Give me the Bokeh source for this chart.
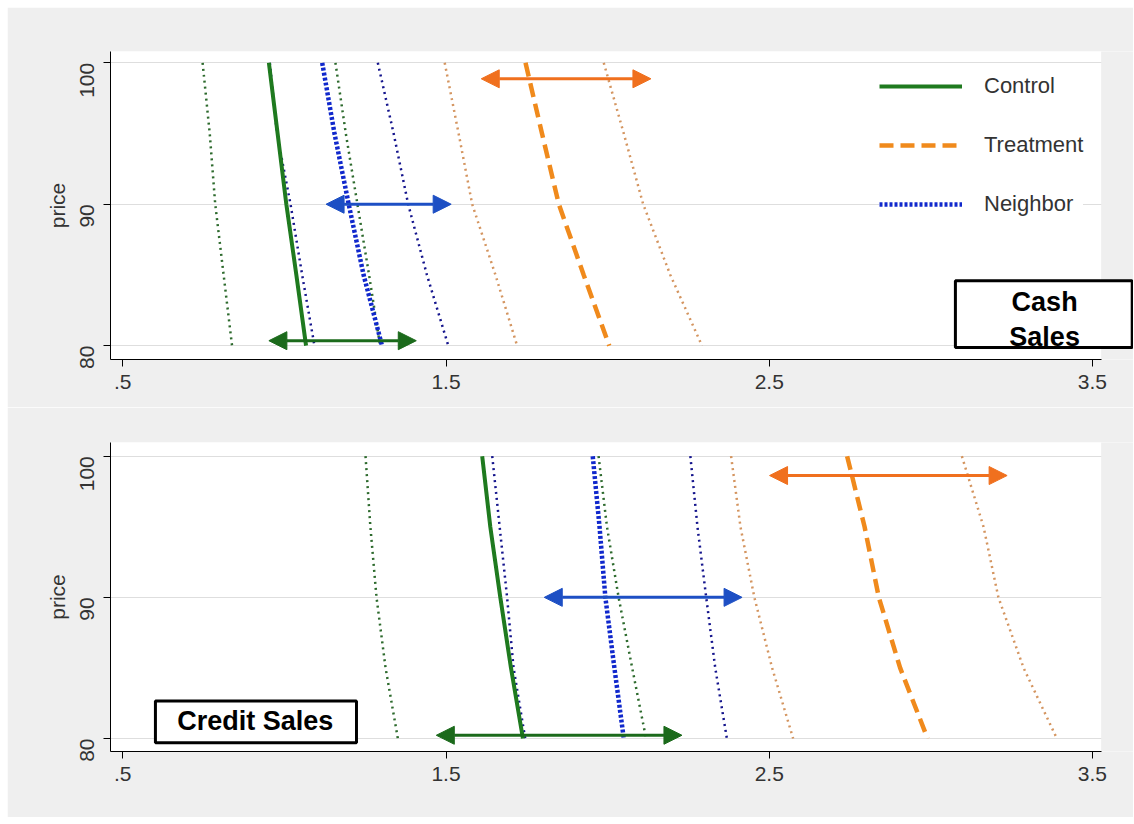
import math
from bokeh.plotting import figure
from bokeh.models import (Range1d, FixedTicker, Arrow, NormalHead, BoxAnnotation,
                          Label, Legend, LegendItem)
from bokeh.layouts import column
from bokeh.embed import file_html
from bokeh.resources import INLINE

# ---------------- data ----------------
price = [100, 95, 90, 85, 80]

# Cash sales panel
cash_control = [0.952, 0.979, 1.006, 1.037, 1.067]
cash_control_lo = [0.747, 0.769, 0.786, 0.812, 0.838]
cash_control_hi = [1.158, 1.190, 1.226, 1.262, 1.296]
cash_treat = [1.746, 1.797, 1.849, 1.926, 2.005]
cash_treat_lo = [1.496, 1.539, 1.581, 1.653, 1.720]
cash_treat_hi = [1.988, 2.050, 2.110, 2.194, 2.292]
cash_neigh = [1.117, 1.155, 1.199, 1.245, 1.302]
cash_neigh_lo = [0.955, 0.977, 1.019, 1.055, 1.093]
cash_neigh_hi = [1.289, 1.338, 1.383, 1.441, 1.507]

# Credit sales panel
credit_control = [1.612, 1.637, 1.668, 1.701, 1.738]
credit_control_lo = [1.251, 1.266, 1.285, 1.313, 1.351]
credit_control_hi = [1.972, 1.998, 2.034, 2.076, 2.119]
credit_treat = [2.741, 2.795, 2.839, 2.905, 2.990]
credit_treat_lo = [2.382, 2.411, 2.454, 2.509, 2.574]
credit_treat_hi = [3.096, 3.163, 3.209, 3.287, 3.390]
credit_neigh = [1.954, 1.975, 1.993, 2.021, 2.050]
credit_neigh_lo = [1.643, 1.666, 1.689, 1.709, 1.745]
credit_neigh_hi = [2.256, 2.278, 2.305, 2.333, 2.369]

# Double-headed arrows (group, from, to, price level)
arrow_groups = ["Control", "Neighbor", "Treatment"]
cash_arrow_from = [0.952, 1.129, 1.609]
cash_arrow_to = [1.408, 1.516, 2.134]
cash_arrow_price = [80.35, 90.0, 98.87]
credit_arrow_from = [1.470, 1.804, 2.501]
credit_arrow_to = [2.230, 2.416, 3.236]
credit_arrow_price = [80.23, 90.0, 98.63]

x_ticks = [0.5, 1.5, 2.5, 3.5]
x_tick_labels = [".5", "1.5", "2.5", "3.5"]
y_ticks = [80, 90, 100]
y_tick_labels = ["80", "90", "100"]
series_names = ["Control", "Treatment", "Neighbor"]

# ---------------- layout / styles ----------------
X_START, X_AXIS_END, X_FRAME_END = 0.462, 3.527, 3.627
FONT = "Liberation Sans"
BG = "#efefef"
TXT = "#333333"
C_GREEN = "#1f7a1f"
C_GREEN_CI = "#2d6a2d"
C_ORANGE = "#f08a1c"
C_ORANGE_CI = "#d49560"
C_BLUE = "#1028cc"
C_BLUE_CI = "#14148c"
ARROW_COL = {"Control": "#1b6a1b", "Neighbor": "#1d4fc4", "Treatment": "#f0701e"}


def make_panel(height, y0, y1, border_top, border_bottom, ctrl, ctrl_lo, ctrl_hi,
               trt, trt_lo, trt_hi, nb, nb_lo, nb_hi, a_from, a_to, a_price):
    p = figure(width=1126, height=height, x_range=Range1d(X_START, X_FRAME_END),
               y_range=Range1d(y0, y1), output_backend="svg", toolbar_location=None,
               min_border_left=103, min_border_right=0,
               min_border_top=border_top, min_border_bottom=border_bottom)
    p.border_fill_color = BG
    p.background_fill_color = "white"
    p.outline_line_color = None
    p.xgrid.visible = False
    p.ygrid.grid_line_color = "#dedede"
    p.ygrid.grid_line_width = 1

    # grey margin to the right of the plotting region (frame extends so boxes are not clipped)
    p.add_layout(BoxAnnotation(left=X_AXIS_END, right=X_FRAME_END + 1, top=y1 + 5, bottom=y0 - 5,
                               fill_color=BG, fill_alpha=1.0, line_alpha=0.0, level="underlay"))

    p.xaxis.ticker = FixedTicker(ticks=x_ticks)
    p.xaxis.major_label_overrides = dict(zip(x_ticks, x_tick_labels))
    p.xaxis.bounds = (X_START, X_AXIS_END)
    p.yaxis.ticker = FixedTicker(ticks=y_ticks)
    p.yaxis.major_label_overrides = dict(zip(y_ticks, y_tick_labels))
    for ax in (p.xaxis, p.yaxis):
        ax.minor_tick_line_color = None
        ax.major_tick_out = 7
        ax.major_tick_in = 0
        ax.axis_line_color = "black"
        ax.major_tick_line_color = "black"
        ax.major_label_text_font = FONT
        ax.major_label_text_font_size = "21px"
        ax.major_label_text_color = TXT
    p.xaxis.major_label_standoff = 8
    p.yaxis.major_label_orientation = math.pi / 2
    p.yaxis.major_label_standoff = 16
    p.yaxis.axis_label = "price"
    p.yaxis.axis_label_text_font = FONT
    p.yaxis.axis_label_text_font_size = "21px"
    p.yaxis.axis_label_text_font_style = "normal"
    p.yaxis.axis_label_text_color = TXT
    p.yaxis.axis_label_standoff = 2

    # confidence bands (thin dotted)
    p.line(ctrl_lo, price, line_color=C_GREEN_CI, line_width=2.5, line_dash="2 4")
    p.line(ctrl_hi, price, line_color=C_GREEN_CI, line_width=2.5, line_dash="2 4")
    p.line(trt_lo, price, line_color=C_ORANGE_CI, line_width=2.5, line_dash="2 4")
    p.line(trt_hi, price, line_color=C_ORANGE_CI, line_width=2.5, line_dash="2 4")
    p.line(nb_lo, price, line_color=C_BLUE_CI, line_width=2.5, line_dash="2 4")
    p.line(nb_hi, price, line_color=C_BLUE_CI, line_width=2.5, line_dash="2 4")

    # central estimates
    r_c = p.line(ctrl, price, line_color=C_GREEN, line_width=4)
    r_t = p.line(trt, price, line_color=C_ORANGE, line_width=4.5, line_dash="14 7")
    r_n = p.line(nb, price, line_color=C_BLUE, line_width=4.5, line_dash="3 2")

    for g, xa, xb, yp in zip(arrow_groups, a_from, a_to, a_price):
        col = ARROW_COL[g]
        p.add_layout(Arrow(
            start=NormalHead(size=18, fill_color=col, line_color=col),
            end=NormalHead(size=18, fill_color=col, line_color=col),
            x_start=xa, y_start=yp, x_end=xb, y_end=yp,
            line_color=col, line_width=3))
    return p, [r_c, r_t, r_n]


p1, rends = make_panel(400, 79.02, 100.8, 44, 48,
                       cash_control, cash_control_lo, cash_control_hi,
                       cash_treat, cash_treat_lo, cash_treat_hi,
                       cash_neigh, cash_neigh_lo, cash_neigh_hi,
                       cash_arrow_from, cash_arrow_to, cash_arrow_price)
p2, _ = make_panel(410, 79.08, 100.97, 35, 66,
                   credit_control, credit_control_lo, credit_control_hi,
                   credit_treat, credit_treat_lo, credit_treat_hi,
                   credit_neigh, credit_neigh_lo, credit_neigh_hi,
                   credit_arrow_from, credit_arrow_to, credit_arrow_price)

legend = Legend(items=[LegendItem(label=n, renderers=[r]) for n, r in zip(series_names, rends)],
                location=(769, 142), margin=0, padding=0, spacing=33,
                glyph_width=83, glyph_height=16, label_height=16, label_standoff=22,
                label_text_font=FONT, label_text_font_size="22px", label_text_color=TXT,
                border_line_color=None, background_fill_color="white", background_fill_alpha=1.0)
p1.add_layout(legend)

# panel titles in boxed labels
p1.add_layout(BoxAnnotation(left=3.076, right=3.623, top=84.58, bottom=79.86,
                            fill_color="white", fill_alpha=1.0, line_alpha=0.0))
p1.add_layout(Label(x=3.352, y=83.12, text="Cash", text_align="center", text_baseline="middle",
                    text_font=FONT, text_font_style="bold", text_font_size="27px", text_color="black"))
p1.add_layout(Label(x=3.352, y=80.64, text="Sales", text_align="center", text_baseline="middle",
                    text_font=FONT, text_font_style="bold", text_font_size="27px", text_color="black"))
p1.add_layout(BoxAnnotation(left=3.076, right=3.623, top=84.58, bottom=79.86,
                            fill_alpha=0.0, line_color="black", line_alpha=1.0, line_width=3))

p2.add_layout(BoxAnnotation(left=0.601, right=1.223, top=82.65, bottom=79.70,
                            fill_color="white", fill_alpha=1.0,
                            line_color="black", line_alpha=1.0, line_width=3))
p2.add_layout(Label(x=0.910, y=81.23, text="Credit Sales", text_align="center", text_baseline="middle",
                    text_font=FONT, text_font_style="bold", text_font_size="27px", text_color="black"))

layout = column(p1, p2, spacing=0, margin=(7, 0, 0, 7))
open("out.html", "w").write(file_html(layout, INLINE))
